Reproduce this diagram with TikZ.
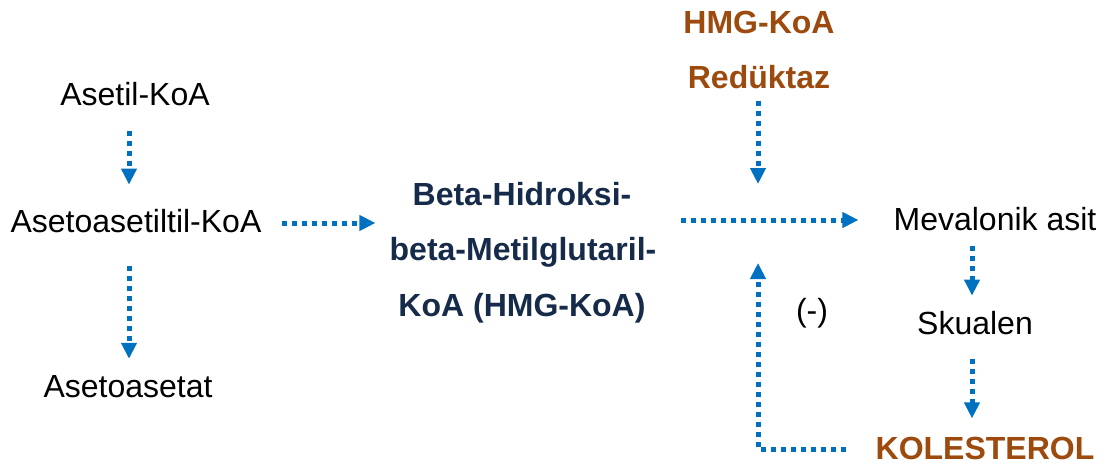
\documentclass[tikz,border=0pt]{standalone}
\usepackage{fontspec}
\setmainfont{Liberation Sans}
\usetikzlibrary{arrows.meta}
\definecolor{flowblue}{RGB}{0,112,192}
\definecolor{navy}{RGB}{22,42,74}
\definecolor{enzyme}{RGB}{156,74,14}
\tikzset{
  lbl/.style={anchor=base, inner sep=0pt, font=\fontsize{32}{38}\selectfont},
  boldlbl/.style={lbl, font=\fontsize{32}{38}\selectfont\bfseries},
  flow/.style={draw=flowblue, line width=5pt, dash pattern=on 5pt off 5pt,
    -{Triangle[length=16pt 0,width=15pt 0]}}
}
\begin{document}
\begin{tikzpicture}[x=1pt,y=-1pt]
\useasboundingbox (0,0) rectangle (1116,463);
% left column: ketone body branch
\node[lbl] (acetyl) at (135,105) {Asetil-KoA};
\node[lbl] (acac) at (136,232) {Asetoasetiltil-KoA};
\node[lbl] (acetoacetate) at (128,397) {Asetoasetat};
% central intermediate
\node[boldlbl, text=navy] (hmg1) at (522,205) {Beta-Hidroksi-};
\node[boldlbl, text=navy] (hmg2) at (523,260) {beta-Metilglutaril-};
\node[boldlbl, text=navy] (hmg3) at (522,316) {KoA (HMG-KoA)};
% enzyme
\node[boldlbl, text=enzyme] (enz1) at (759,33) {HMG-KoA};
\node[boldlbl, text=enzyme] (enz2) at (759,88) {Redüktaz};
% right column: mevalonate pathway
\node[lbl] (meva) at (995,230) {Mevalonik asit};
\node[lbl] (squal) at (975,334) {Skualen};
\node[boldlbl, text=enzyme] (chol) at (985,459) {KOLESTEROL};
\node[lbl] (inhib) at (812,321) {(-)};
% junction points on the main reaction line
\coordinate (enzhit) at (758,184);
\coordinate (fbturn) at (758,449);
\coordinate (fbhit) at (758,263);
% connectors
\draw[flow] ([yshift=-25pt]acetyl.south -| 129,0) -- ([yshift=24pt]acac.north -| 129,0);
\draw[flow] ([yshift=-33pt]acac.south -| 129,0) -- ([yshift=16pt]acetoacetate.north -| 129,0);
\draw[flow] ([xshift=20pt]acac.east |- 0,223) -- ([xshift=-14pt]hmg2.west |- 0,223);
\draw[flow] ([yshift=-12pt]enz2.south -| enzhit) -- (enzhit);
\draw[flow] (hmg2.east |- 0,220) ++(24,0) -- ([xshift=-35pt]meva.west |- 0,220);
\draw[flow] ([yshift=-15pt]meva.south -| 972,0) -- ([yshift=15pt]squal.north -| 972,0);
\draw[flow] ([yshift=-24pt]squal.south -| 972,0) -- ([yshift=18pt]chol.north -| 972,0);
\draw[flow] ([xshift=-29pt]chol.west |- fbturn) -- (fbturn) -- (fbhit);
\end{tikzpicture}
\end{document}
